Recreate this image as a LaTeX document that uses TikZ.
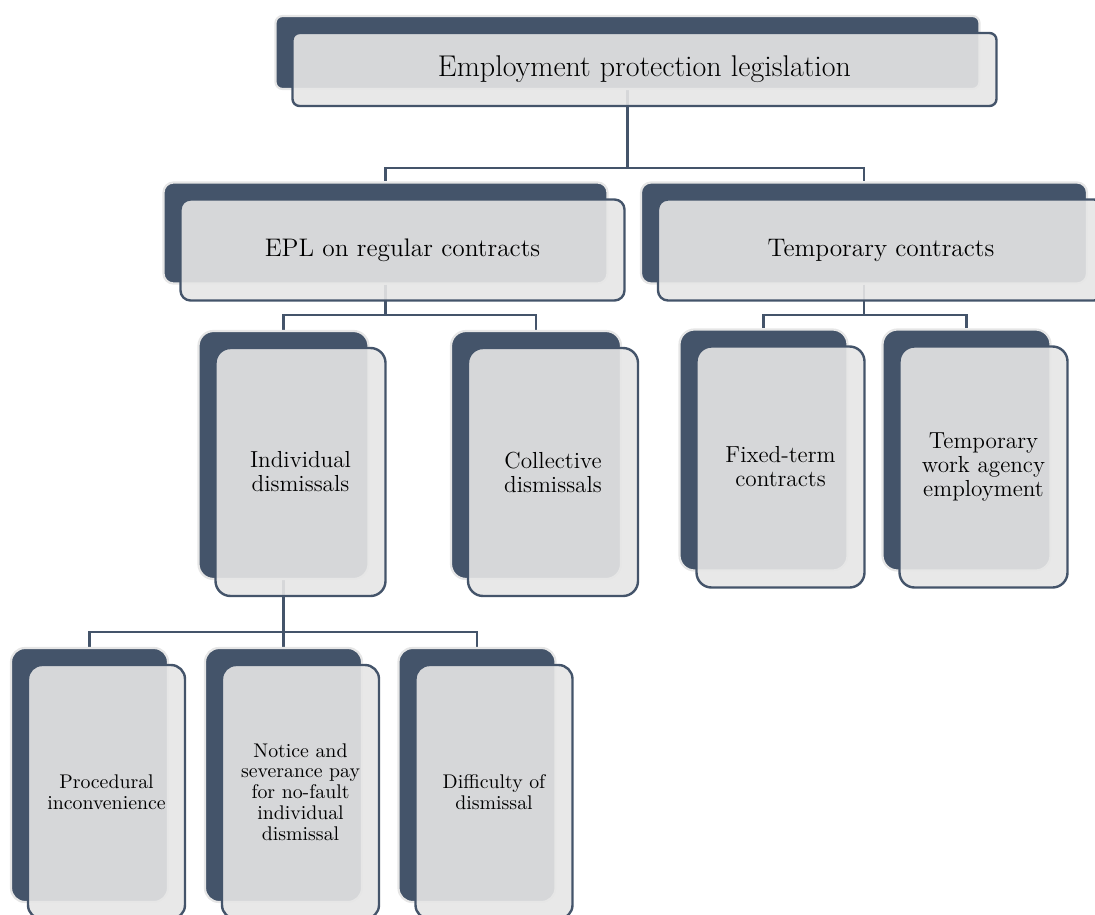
\documentclass[tikz,border=0pt]{standalone}
\usepackage{fontspec}
\usetikzlibrary{positioning,backgrounds}
\definecolor{eplslate}{HTML}{44546A}
\definecolor{eplfront}{HTML}{E6E6E6}
\definecolor{eplrim}{HTML}{E6E6E6}

\begin{document}
\begin{tikzpicture}[x=0.5pt, y=-0.5pt, line cap=round, line join=round,
  backbox/.style={fill=eplslate, draw=eplrim, line width=1.1pt, inner sep=0pt},
  frontbox/.style={fill=eplfront, fill opacity=0.9, text opacity=1, draw=eplslate,
    line width=1.2pt, align=center, inner sep=1pt, xshift=8.5pt, yshift=-8.5pt},
  link/.style={draw=eplslate, line width=1.3pt},
  toplevel/.style={minimum width=352pt, minimum height=36.5pt, rounded corners=3.5pt,
    font=\fontsize{15}{17}\selectfont},
  midlevel/.style={minimum width=222pt, minimum height=50.5pt, rounded corners=5pt,
    font=\fontsize{12.7}{15}\selectfont},
  sublevel/.style={minimum width=85pt, minimum height=124pt, rounded corners=7.5pt,
    font=\fontsize{11.6}{12}\selectfont},
  tmplevel/.style={sublevel, minimum width=84pt, minimum height=120.5pt},
  leaflevel/.style={minimum width=78.5pt, minimum height=127pt, rounded corners=7pt,
    font=\fontsize{9.9}{10.4}\selectfont}]

% --- Canvas (pixels of the reference) ---
\clip (0,0) rectangle (1095,914);

% --- Bus lines ---
\coordinate (bus1) at (0,168);
\coordinate (bus2) at (0,315);
\coordinate (bus3) at (0,632);

% --- Top ---
\node[backbox, toplevel] (epl-b) at (627.5,52.5) {};
\node[frontbox, toplevel] (epl) at (epl-b) {Employment protection legislation};

% --- Second level ---
\node[backbox, midlevel] (regular-b) at (385.5,233) {};
\node[frontbox, midlevel] (regular) at (regular-b) {EPL on regular contracts};
\node[backbox, midlevel, minimum width=223pt] (temporary-b) at (864,233) {};
\node[frontbox, midlevel, minimum width=223pt] (temporary) at (temporary-b) {Temporary contracts};

% --- Third level ---
\node[backbox, sublevel] (individual-b) at (283.5,455) {};
\node[frontbox, sublevel] (individual) at (individual-b) {Individual\\dismissals};
\node[backbox, sublevel] (collective-b) at (536,455) {};
\node[frontbox, sublevel] (collective) at (collective-b) {Collective\\dismissals};
\node[backbox, tmplevel] (fixed-b) at (763.5,450) {};
\node[frontbox, tmplevel] (fixed) at (fixed-b) {Fixed-term\\contracts};
\node[backbox, tmplevel] (agency-b) at (966.5,450) {};
\node[frontbox, tmplevel] (agency) at (agency-b) {Temporary\\work agency\\employment};

% --- Fourth level ---
\node[backbox, leaflevel] (procedural-b) at (89.5,775) {};
\node[frontbox, leaflevel] (procedural) at (procedural-b) {Procedural\\inconvenience};
\node[backbox, leaflevel] (notice-b) at (283.5,775) {};
\node[frontbox, leaflevel] (notice) at (notice-b)
  {Notice and\\severance pay\\for no-fault\\individual\\dismissal};
\node[backbox, leaflevel] (difficulty-b) at (477,775) {};
\node[frontbox, leaflevel] (difficulty) at (difficulty-b) {Difficulty of\\dismissal};

% --- Connectors (behind the boxes) ---
\begin{pgfonlayer}{background}
  \draw[link] (epl-b.south) -- (epl-b.south |- bus1) -| (regular-b.north);
  \draw[link] (epl-b.south |- bus1) -| (temporary-b.north);
  \draw[link] (regular-b.south) -- (regular-b.south |- bus2) -| (individual-b.north);
  \draw[link] (regular-b.south |- bus2) -| (collective-b.north);
  \draw[link] (temporary-b.south) -- (temporary-b.south |- bus2) -| (fixed-b.north);
  \draw[link] (temporary-b.south |- bus2) -| (agency-b.north);
  \draw[link] (individual-b.south) -- (notice-b.north);
  \draw[link] (individual-b.south |- bus3) -| (procedural-b.north);
  \draw[link] (individual-b.south |- bus3) -| (difficulty-b.north);
\end{pgfonlayer}

\end{tikzpicture}
\end{document}
